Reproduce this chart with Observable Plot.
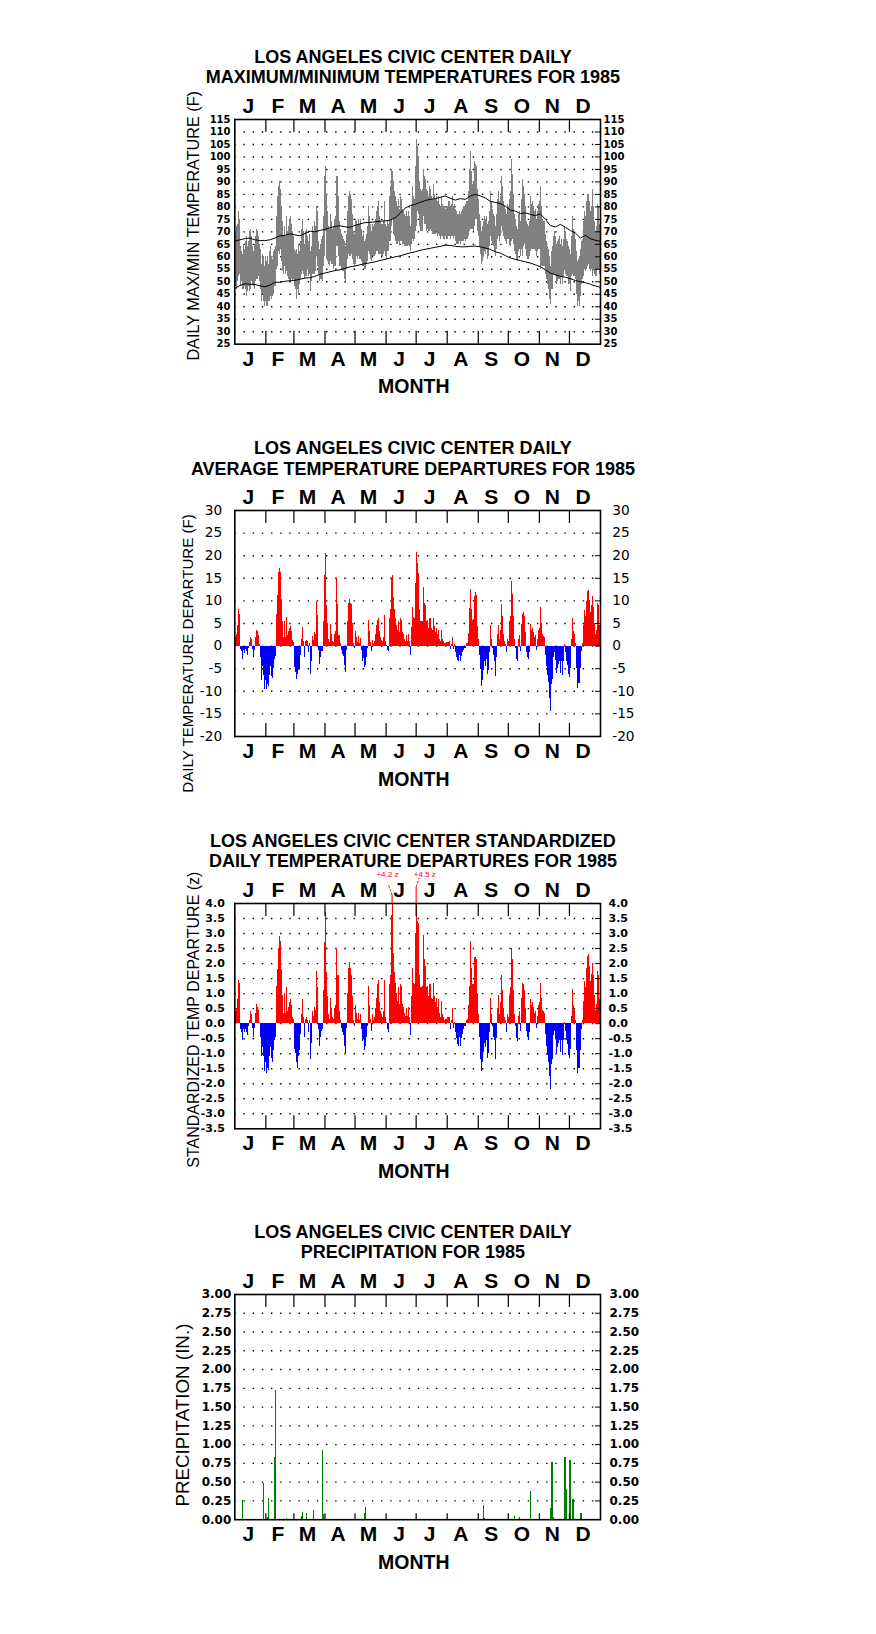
<!DOCTYPE html>
<html><head><meta charset="utf-8">
<script src="https://cdn.jsdelivr.net/npm/d3@7"></script>
<script src="https://cdn.jsdelivr.net/npm/@observablehq/plot@0.6"></script>
<style>
html,body{margin:0;padding:0;background:#fff;}
#wrap{position:relative;width:876px;height:1634px;overflow:hidden;background:#fff;}
#wrap svg{position:absolute;left:0;}
</style></head><body><div id="wrap"></div>
<script>
// ---------------- DATA ----------------
const monthLetters = ["J","F","M","A","M","J","J","A","S","O","N","D"];
const monthStarts = [0,31,59,90,120,151,181,212,243,273,304,334,365];

// daily max / min temperature (F), 1985, day 0 = Jan 1
const tMax = [
68,70,72,73,78,75,64,62,61,65, 63,66,68,64,66,70,71,68,64,62, 65,68,71,70,68,65,63,57,61,60,
56,60,58,60,57,62,64,60,59,62, 63,64,76,84,88,90,87,80,74,68, 72,68,76,70,72,75,76,73,70,68,
63,62,63,61,65,62,66,71,75,70, 65,70,71,68,66,69,62,64,72,70, 74,72,80,78,66,63,65,67,68,76,
92,96,85,78,72,71,77,74,71,72, 75,76,92,84,74,71,69,68,67,66, 64,69,78,84,86,85,83,77,70,69,
75,74,73,75,73,75,71,68,69,66, 67,69,72,80,76,73,70,73,72,73, 75,78,80,82,76,74,73,73,74,82,
73,72,74,73,84,88,95,94,90,86, 84,82,80,83,79,84,83,79,78,77, 76,78,76,78,76,72,81,88,84,83,
96,107,104,100,90,87,86,87,95,92, 91,87,86,84,88,87,84,83,89,85, 83,84,82,84,81,80,84,81,80,80,
79,80,80,82,82,80,81,84,80,81, 79,78,77,77,78,77,78,79,80,80, 81,82,82,86,95,102,94,89,90,98,
97,96,87,83,77,74,70,72,74,76, 75,76,73,74,78,86,82,79,77,76, 72,77,83,86,82,84,92,88,82,80,
79,77,81,80,83,86,99,93,85,77, 75,72,71,77,78,74,83,91,88,85, 80,74,73,72,74,84,81,82,80,78,
79,75,78,81,82,88,80,75,74,74, 69,66,64,63,60,56,62,64,68,70, 68,65,66,67,68,65,67,64,67,72,
70,67,66,64,63,61,68,76,71,70, 67,62,58,59,60,63,66,67,74,78, 76,82,85,85,82,78,80,87,80,74,
70,72,81,80,73];
const tMin = [
48,48,47,50,52,53,48,50,47,47, 48,47,44,46,48,46,47,50,49,48, 47,50,51,51,52,50,47,42,45,42,
40,42,40,40,42,42,44,43,44,45, 48,48,55,56,62,61,63,58,54,53, 56,53,54,52,51,50,50,51,50,51,
48,47,43,47,45,49,51,53,54,53, 51,52,52,55,52,53,46,50,53,53, 53,54,60,56,53,50,51,51,50,56,
60,70,59,58,57,56,58,57,57,55, 56,56,64,60,56,56,55,54,54,51, 50,55,59,61,60,60,61,59,57,56,
57,60,59,60,59,59,58,56,56,55, 55,57,58,62,61,59,58,60,60,60, 61,62,62,61,61,61,60,60,61,62,
60,59,62,62,66,66,72,75,69,68, 66,65,65,66,65,66,66,65,65,64, 64,64,64,65,64,62,65,67,66,67,
70,72,78,77,72,70,70,70,76,73, 73,70,71,70,70,71,70,69,69,69, 69,70,68,69,68,67,68,68,67,67,
68,67,67,68,68,67,68,68,67,68, 66,65,65,65,66,65,66,66,66,67, 66,67,67,68,70,71,71,71,70,72,
75,75,70,68,64,61,57,58,60,62, 61,63,59,60,64,68,66,65,64,62, 60,63,67,68,66,68,72,70,68,67,
66,65,67,67,65,64,66,67,65,62, 61,59,58,62,63,60,63,60,64,65, 63,60,59,59,60,62,63,63,63,63,
62,60,62,63,63,55,56,56,56,56, 53,51,49,47,43,41,47,47,53,53, 52,49,50,51,51,49,52,49,52,55,
53,52,52,49,49,46,52,53,52,52, 51,45,40,42,40,44,49,51,52,55, 54,55,56,57,55,54,55,52,54,53,
52,52,55,55,53];

// normal max / min (F), every 5 days from Jan 1
const normalMax = [66.3,66.8,67.3,67.5,66.8,66.5,66.5,66.8,67.5,68.4,68.6,69.2,68.8,68.4,69.3,70.3,70,70.6,71,71.6,
72.2,72.4,72,71.8,72.6,73.2,73.7,73.8,74,74.3,74.4,74.7,75.6,77.4,79.5,80.5,81,81.8,82.5,83,
83.3,83.8,84.4,83.5,82.7,83.3,83,84.3,85,84.4,83.6,82.2,81.8,81.3,80.3,78.7,78.3,77.3,77.6,77,
76.5,77.2,75,72.5,72,73,71.8,70.5,69.5,67.5,68.6,67.2,66.6,66.2];
const normalMin = [47.3,48.5,49.2,49,48.9,48.4,48,48.6,49.8,49.8,50.2,50.4,50.6,51,51.5,51.6,52.2,53,53.5,54,
54.5,54.8,55.4,56,56.3,56.8,57.3,57.6,58,58.5,59,59.5,60,60.4,61,61.6,62,62.6,63,63.4,
63.8,64.2,64.6,64.6,64.2,64,64,64.2,64.3,64,63.5,63,62,61.5,60.5,59.5,59,58.5,58,57.5,
56.8,56,54.8,53.5,52.8,52.2,51.8,51.2,50.5,50,49.6,49,48.3,47.8];

// daily average temperature departure (F)
const departure = [
1.0,2.0,2.5,4.5,8.0,7.0,-0.8,-1.2,-3.0,-1.0, -1.6,-0.8,-1.3,-2.0,-0.5,0.8,2.0,1.5,-0.8,-2.5,
-1.0,1.8,3.5,3.2,2.4,0.3,-2.5,-7.6,-4.5,-6.5, -9.5,-7.5,-9.7,-8.5,-9.0,-6.5,-4.5,-6.8,-7.2,-5.0,
-3.0,-2.3,7.0,11.2,16.3,17.2,16.3,10.3,5.5,1.8, 5.5,2.0,6.3,2.3,3.2,4.0,4.4,3.3,1.2,0.8,
-4.8,-5.8,-7.3,-6.3,-5.5,-5.0,-2.0,1.5,4.2,1.0, -2.5,1.0,1.2,1.0,-1.5,0.5,-6.2,-3.5,2.2,1.3,
3.0,2.5,9.9,6.7,-1.0,-4.0,-2.5,-1.3,-1.2,5.5, 15.7,20.5,9.0,5.0,1.5,0.8,4.7,2.5,1.0,0.8,
2.5,3.2,15.0,9.2,2.3,0.5,-1.0,-1.8,-2.4,-4.2, -5.8,-1.0,5.5,9.5,10.3,9.5,9.3,5.0,0.5,-0.5,
3.2,1.8,0.8,2.1,0.5,1.7,-1.0,-3.3,-2.8,-4.7, -4.2,-2.5,-0.5,5.7,3.2,0.7,-1.3,1.2,0.5,1.0,
2.5,4.5,5.6,6.0,3.3,2.0,1.3,1.0,2.0,6.8, 1.0,0.2,-1.0,-1.2,6.0,8.0,15.0,15.7,10.7,8.0,
6.0,4.5,3.5,5.5,3.0,6.0,5.7,3.0,2.5,1.5, 1.0,2.3,1.0,2.5,1.0,-2.0,4.2,8.5,6.3,6.0,
13.8,20.7,18.3,16.0,8.0,5.5,5.5,5.5,13.0,9.5, 9.0,5.5,5.7,4.0,6.0,6.0,4.0,3.5,6.0,4.3,
3.0,4.0,2.5,3.5,1.5,1.0,3.4,1.5,1.0,0.5, 0.5,0.7,0.8,0.8,1.0,-0.8,0.3,2.0,-0.8,0.3,
-1.5,-2.5,-3.2,-3.3,-2.0,-3.3,-2.2,-1.5,-1.0,-0.5, -0.5,0.5,0.5,2.8,8.3,12.5,8.2,5.7,5.8,11.0,
11.8,11.3,4.3,1.5,-2.0,-5.2,-9.0,-7.5,-5.5,-3.5, -4.5,-3.0,-6.3,-5.5,-1.5,4.5,1.5,-0.5,-2.0,-3.3,
-6.7,-2.5,2.5,4.5,1.5,3.5,9.3,6.5,2.5,1.0, 0.3,-1.5,1.5,1.0,5.5,6.5,14.3,11.5,6.5,1.5,
-0.5,-3.0,-3.5,1.5,2.3,-1.3,4.7,7.0,7.5,6.5, 3.0,-1.5,-2.5,-3.0,-1.5,4.8,3.5,4.0,3.0,2.0,
2.3,-1.0,1.5,3.5,4.0,8.5,5.0,2.5,2.2,2.0, -2.0,-4.5,-6.5,-8.0,-11.5,-14.5,-8.5,-7.3,-2.5,-1.5,
-3.2,-6.0,-5.0,-4.0,-3.5,-6.0,-3.5,-6.5,-3.5,0.3, -1.5,-3.3,-4.2,-6.3,-7.0,-5.0,1.5,6.0,3.2,2.5,
0.5,-5.0,-9.3,-8.3,-8.3,-5.0,-1.2,0.5,4.5,7.8, 6.5,9.8,12.0,12.3,10.0,7.5,9.0,11.0,8.5,5.0,
2.5,3.5,9.5,9.0,4.5];

// standardized daily temperature departure (z)
const zDeparture = [
0.2,0.4,0.5,0.8,1.45,1.35,-0.2,-0.3,-0.55,-0.2, -0.3,-0.2,-0.3,-0.4,-0.1,0.1,0.4,0.3,-0.15,-0.45,
-0.15,0.35,0.65,0.55,0.45,0.05,-0.45,-1.1,-0.8,-1.1, -1.6,-1.3,-1.65,-1.5,-1.55,-1.1,-0.8,-1.15,-1.3,-0.9,
-0.55,-0.45,1.25,1.8,2.5,2.9,2.75,1.8,0.95,0.35, 1.0,0.35,1.2,0.4,0.55,0.7,0.8,0.6,0.2,0.15,
-0.85,-1.0,-1.3,-1.5,-1.1,-0.9,-0.35,0.3,0.8,0.2, -0.45,0.15,0.2,0.1,-0.3,0.1,-1.2,-0.65,0.4,0.25,
0.55,0.45,1.75,1.2,-0.2,-0.75,-0.45,-0.25,-0.2,1.1, 2.7,3.7,1.7,0.9,0.3,0.15,0.85,0.5,0.2,0.15,
0.5,0.6,2.5,1.6,0.4,0.1,-0.15,-0.3,-0.4,-0.75, -1.0,-0.15,1.0,1.85,2.05,1.85,1.6,0.9,0.1,-0.1,
0.6,0.35,0.15,0.35,0.1,0.3,-0.2,-0.6,-0.5,-0.9, -0.75,-0.45,-0.1,1.25,0.6,0.15,-0.25,0.3,0.1,0.2,
0.5,0.85,1.3,1.45,0.7,0.4,0.3,0.2,0.4,1.45, 0.2,0.05,-0.2,-0.3,1.3,1.6,3.6,4.2,2.35,1.7,
1.35,1.0,0.75,1.2,0.65,1.3,1.25,0.65,0.55,0.35, 0.25,0.5,0.25,0.55,0.2,-0.4,0.9,1.85,1.35,1.3,
3.0,4.5,3.4,3.35,1.6,1.2,1.2,1.25,2.95,2.15, 1.9,1.2,1.25,0.9,1.3,1.3,0.85,0.8,1.35,0.9,
0.7,0.85,0.55,0.8,0.35,0.2,0.75,0.3,0.2,0.1, 0.15,0.15,0.2,0.2,0.2,-0.2,0.1,0.5,-0.15,0.05,
-0.3,-0.5,-0.7,-0.75,-0.45,-0.75,-0.5,-0.35,-0.2,-0.1, -0.1,0.1,0.15,0.6,1.25,2.75,1.85,1.3,1.3,2.2,
2.2,2.15,1.0,0.3,-0.45,-1.2,-1.6,-1.3,-0.95,-0.65, -0.8,-0.55,-1.15,-1.0,-0.3,0.85,0.3,-0.1,-0.45,-0.55,
-1.2,-0.5,0.5,0.95,0.3,0.7,1.6,1.1,0.5,0.2, 0.1,-0.3,0.3,0.2,0.95,1.2,2.5,2.15,1.1,0.3,
-0.1,-0.5,-0.6,0.25,0.4,-0.25,0.85,1.35,1.3,1.1, 0.5,-0.25,-0.45,-0.55,-0.3,0.8,0.6,0.7,0.55,0.35,
0.4,-0.15,0.25,0.6,0.7,1.35,0.85,0.45,0.4,0.35, -0.35,-0.75,-1.05,-1.3,-1.75,-2.2,-1.35,-1.2,-0.4,-0.25,
-0.5,-1.0,-0.8,-0.65,-0.55,-0.95,-0.55,-1.05,-0.55,0.05, -0.25,-0.55,-0.7,-1.05,-1.15,-0.85,0.25,1.15,0.6,0.45,
0.1,-0.9,-1.65,-1.5,-1.5,-0.9,-0.2,0.1,0.75,1.4, 1.2,1.85,2.25,2.3,1.9,1.4,1.65,2.0,1.6,0.95,
0.45,0.65,1.75,1.6,0.8];
const zNoteDay = [157, 181];
const zNoteText = ["+4.2 z", "+4.5 z"];

// daily precipitation (in.) — only days with rain
const precipDay = [7,28,32,33,39,40,51,66,67,71,78,87,88,129,130,248,249,279,284,295,315,316,317,329,330,334,337,345];
const precipIn  = [0.25,0.48,0.03,0.28,0.83,1.72,0.01,0.04,0.09,0.08,0.12,0.92,0.07,0.08,0.16,0.19,0.01,0.04,0.03,0.37,0.15,0.76,0.03,0.83,0.40,0.79,0.27,0.08];

// tick labels
const ticksTemp = [25,30,35,40,45,50,55,60,65,70,75,80,85,90,95,100,105,110,115];
const ticksDep = [-20,-15,-10,-5,0,5,10,15,20,25,30];
const ticksZ = [-3.5,-3.0,-2.5,-2.0,-1.5,-1.0,-0.5,0.0,0.5,1.0,1.5,2.0,2.5,3.0,3.5,4.0];
const ticksPrecip = [0,0.25,0.5,0.75,1,1.25,1.5,1.75,2,2.25,2.5,2.75,3];

// ---------------- LAYOUT ----------------
const W = 876, FRAME_L = 234.3, FRAME_R = 600, MT = 80, MB = 62;
const AR = "Liberation Sans, Arial, Helvetica, sans-serif";
const DJ = "DejaVu Sans, Verdana, sans-serif";
const wrap = document.getElementById("wrap");
const monthMid = monthLetters.map((_, i) => (monthStarts[i] + monthStarts[i + 1]) / 2);

function panel(cfg) {
  const fh = cfg.frameBottom - cfg.frameTop;
  const [lo, hi] = cfg.domain;
  const perPx = (hi - lo) / fh;
  const grid = cfg.ticks.filter(t => t > lo && t < hi);
  const inner = monthStarts.slice(1, 12);
  const marks = [
    Plot.ruleY(grid, {y: d => d, stroke: "#000", strokeWidth: 1.4, strokeDasharray: "1.4 7.77"}),
    ...cfg.marks,
    Plot.ruleY(grid, {y: d => d, x1: 365 * (1 - 5 / 366), x2: 365, stroke: "#000", strokeWidth: 1}),
    Plot.ruleX(inner, {x: d => d, y1: hi, y2: hi - 13 * perPx, stroke: "#000", strokeWidth: 1.2}),
    Plot.ruleX(inner, {x: d => d, y1: lo, y2: lo + cfg.bottomTick * perPx, stroke: "#000", strokeWidth: 1.2}),
    Plot.frame({stroke: "#000", strokeWidth: 1.6}),
    // tick labels
    Plot.text(cfg.ticks, {y: d => d, text: cfg.fmt, frameAnchor: "left", textAnchor: "end", dx: -cfg.padL,
      fontSize: cfg.tickFont, fontWeight: cfg.tickWeight, fontFamily: DJ, fill: "#000"}),
    Plot.text(cfg.ticks, {y: d => d, text: cfg.fmt, frameAnchor: "right", textAnchor: "start", dx: cfg.padR,
      fontSize: cfg.tickFont, fontWeight: cfg.tickWeight, fontFamily: DJ, fill: "#000"}),
    // month letters
    Plot.text(monthMid, {x: d => d, text: (d, i) => monthLetters[i], frameAnchor: "top", lineAnchor: "bottom",
      dy: -6.6, dx: -2, fontSize: 21, fontWeight: "bold", fontFamily: AR, fill: "#000"}),
    Plot.text(monthMid, {x: d => d, text: (d, i) => monthLetters[i], frameAnchor: "bottom", lineAnchor: "top",
      dy: 6.7, dx: -2, fontSize: 21, fontWeight: "bold", fontFamily: AR, fill: "#000"}),
    Plot.text(["MONTH"], {frameAnchor: "bottom", lineAnchor: "bottom", dy: 49, dx: -3.9,
      fontSize: 19.5, fontWeight: "bold", fontFamily: AR, fill: "#000"}),
    // titles
    Plot.text([cfg.title[0]], {frameAnchor: "top", lineAnchor: "bottom", dy: -56.6, dx: -4.7,
      fontSize: 18, fontWeight: "bold", fontFamily: AR, fill: "#000"}),
    Plot.text([cfg.title[1]], {frameAnchor: "top", lineAnchor: "bottom", dy: -36, dx: -4.7,
      fontSize: 18, fontWeight: "bold", fontFamily: AR, fill: "#000"}),
    // y axis title
    Plot.text([cfg.yLabel], {frameAnchor: "left", rotate: -90, lineAnchor: "middle", textAnchor: "middle",
      dx: cfg.yLabelDx, dy: cfg.yLabelDy, fontSize: cfg.yLabelSize, fontFamily: AR, fill: "#000"})
  ];
  const svg = Plot.plot({
    width: W, height: MT + fh + MB,
    marginTop: MT, marginBottom: MB, marginLeft: FRAME_L, marginRight: W - FRAME_R,
    x: {domain: [0, 365], axis: null},
    y: {domain: [lo, hi], axis: null},
    style: {fontFamily: AR, background: "transparent", overflow: "visible", color: "#000"},
    marks
  });
  svg.style.top = (cfg.frameTop - MT) + "px";
  wrap.appendChild(svg);
}

// Panel 1: max/min
const days = tMax.map((v, i) => ({i, hi: v, lo: tMin[i]}));
panel({
  frameTop: 119.3, frameBottom: 344, domain: [25, 115], ticks: ticksTemp, fmt: d => String(d),
  tickFont: 10, tickWeight: "bold", padL: 4.3, padR: 3, bottomTick: 13,
  title: ["LOS ANGELES CIVIC CENTER DAILY", "MAXIMUM/MINIMUM TEMPERATURES FOR 1985"],
  yLabel: "DAILY MAX/MIN TEMPERATURE (F)", yLabelDx: -41, yLabelDy: -6, yLabelSize: 16.2,
  marks: [
    Plot.rect(days, {x1: d => d.i, x2: d => d.i + 1, y1: "lo", y2: "hi", fill: "#808080", shapeRendering: "crispEdges"}),
    Plot.line(normalMax, {x: (d, i) => i * 5, y: d => d, stroke: "#000", strokeWidth: 1}),
    Plot.line(normalMin, {x: (d, i) => i * 5, y: d => d, stroke: "#000", strokeWidth: 1})
  ]
});

// Panel 2: departures
const dep = departure.map((v, i) => ({i, v}));
panel({
  frameTop: 510, frameBottom: 736, domain: [-20, 30], ticks: ticksDep, fmt: d => String(d),
  tickFont: 13.7, tickWeight: "normal", padL: 12.6, padR: 11.7, bottomTick: 13,
  title: ["LOS ANGELES CIVIC CENTER DAILY", "AVERAGE TEMPERATURE DEPARTURES FOR 1985"],
  yLabel: "DAILY TEMPERATURE DEPARTURE (F)", yLabelDx: -46.5, yLabelDy: 30, yLabelSize: 15.1,
  marks: [
    Plot.rect(dep.filter(d => d.v > 0), {x1: d => d.i, x2: d => d.i + 1, y1: 0, y2: "v", fill: "#ff0000", shapeRendering: "crispEdges"}),
    Plot.rect(dep.filter(d => d.v < 0), {x1: d => d.i, x2: d => d.i + 1, y1: 0, y2: "v", fill: "#0000ff", shapeRendering: "crispEdges"})
  ]
});

// Panel 3: standardized departures
const zz = zDeparture.map((v, i) => ({i, v}));
const noteGeom = [{ext: 7.7, lx: -3.9, ly: 19, tx: -4.7}, {ext: 16, lx: 3, ly: 25, tx: 8.7}];
function zNotes(index, scales) {
  const g = d3.create("svg:g");
  const y4 = scales.y(4.0);
  zNoteDay.forEach((d, k) => {
    const x = scales.x(d + 0.5), o = noteGeom[k];
    g.append("line").attr("x1", x).attr("x2", x).attr("y1", y4).attr("y2", y4 - o.ext)
      .attr("stroke", "#ff0000").attr("stroke-width", 1.1);
    g.append("line").attr("x1", x).attr("y1", y4 - o.ext).attr("x2", x + o.lx).attr("y2", y4 - o.ly)
      .attr("stroke", "#ff0000").attr("stroke-width", 1).attr("stroke-dasharray", "2.5,1.5");
    g.append("text").attr("x", x + o.tx).attr("y", y4 - 28.5).attr("dy", "0.32em").attr("text-anchor", "middle")
      .attr("fill", "#ff0000").attr("font-size", 8).attr("font-family", AR).text(zNoteText[k]);
  });
  return g.node();
}
panel({
  frameTop: 902.7, frameBottom: 1128, domain: [-3.5, 4.0], ticks: ticksZ, fmt: d => d.toFixed(1),
  tickFont: 11, tickWeight: "bold", padL: 10, padR: 8, bottomTick: 13,
  title: ["LOS ANGELES CIVIC CENTER STANDARDIZED", "DAILY TEMPERATURE DEPARTURES FOR 1985"],
  yLabel: "STANDARDIZED TEMP DEPARTURE (z)", yLabelDx: -41.3, yLabelDy: 3.5, yLabelSize: 16,
  marks: [
    Plot.rect(zz.filter(d => d.v > 0), {x1: d => d.i, x2: d => d.i + 1, y1: 0, y2: "v", fill: "#ff0000", shapeRendering: "crispEdges", clip: true}),
    Plot.rect(zz.filter(d => d.v < 0), {x1: d => d.i, x2: d => d.i + 1, y1: 0, y2: "v", fill: "#0000ff", shapeRendering: "crispEdges", clip: true}),
    zNotes
  ]
});

// Panel 4: precipitation
const pr = precipDay.map((d, k) => ({d, v: precipIn[k]}));
panel({
  frameTop: 1294.3, frameBottom: 1519.5, domain: [0, 3], ticks: ticksPrecip, fmt: d => d.toFixed(2),
  tickFont: 12, tickWeight: "bold", padL: 3.5, padR: 9, bottomTick: 6,
  title: ["LOS ANGELES CIVIC CENTER DAILY", "PRECIPITATION FOR 1985"],
  yLabel: "PRECIPITATION (IN.)", yLabelDx: -51.8, yLabelDy: 8, yLabelSize: 18.8,
  marks: [
    Plot.ruleX(pr, {x: d => d.d + 0.5, y1: 0, y2: "v", stroke: "#008000", strokeWidth: 1.2, shapeRendering: "crispEdges"})
  ]
});
</script></body></html>
